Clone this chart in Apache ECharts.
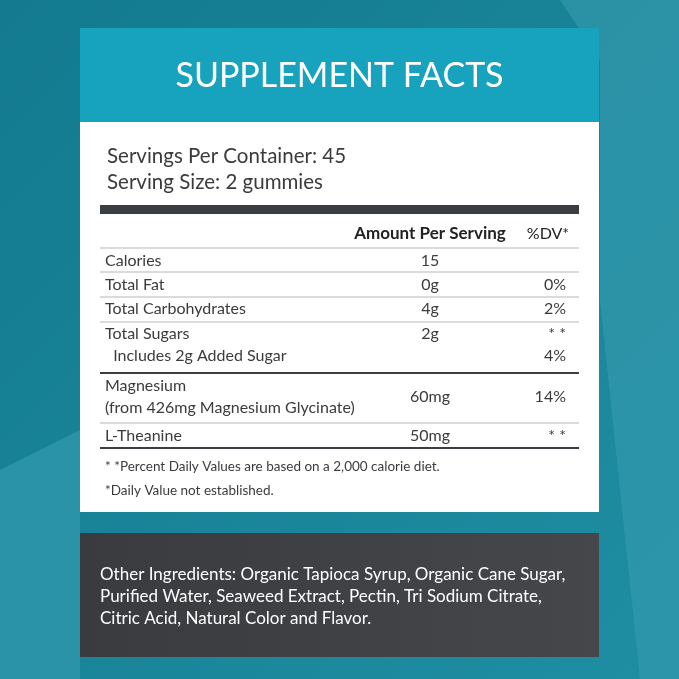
<!DOCTYPE html>
<html>
<head>
<meta charset="utf-8">
<script src="https://cdn.jsdelivr.net/npm/echarts@6/dist/echarts.min.js"></script>
<style>html,body{margin:0;padding:0;}#main{width:679px;height:679px;}</style>
</head>
<body>
<div id="main"></div>
<script>
var title = 'SUPPLEMENT FACTS';
var servingLines = ['Servings Per Container: 45', 'Serving Size: 2 gummies'];
var rowNames = ['Calories', 'Total Fat', 'Total Carbohydrates', 'Total Sugars', '  Includes 2g Added Sugar', 'Magnesium\n(from 426mg Magnesium Glycinate)', 'L-Theanine'];
var rowAmounts = ['15', '0g', '4g', '2g', '', '60mg', '50mg'];
var rowDV = ['', '0%', '2%', '* *', '4%', '14%', '* *'];
var footnotes = ['* *Percent Daily Values are based on a 2,000 calorie diet.', '*Daily Value not established.'];
var ingredients = ['Other Ingredients: Organic Tapioca Syrup, Organic Cane Sugar,', 'Purified Water, Seaweed Extract, Pectin, Tri Sodium Citrate,', 'Citric Acid, Natural Color and Flavor.'];

var myChart = echarts.init(document.getElementById('main'));
var F = 'Lato, "Open Sans", sans-serif';
var ink = '#3b3b3e';

// row layout: text y and separator after
var rowY = [261, 285, 309, 334, 356, 397, 436];
var lines = [
  {y: 248, c: '#cfcfcf', w: 1.5}, {y: 272, c: '#cfcfcf', w: 1.5}, {y: 297, c: '#cfcfcf', w: 1.5},
  {y: 322, c: '#cfcfcf', w: 1.5}, {y: 373, c: '#3a3d42', w: 2}, {y: 423, c: '#cfcfcf', w: 1.5},
  {y: 448, c: '#3a3d42', w: 2}
];

var g = [];
// background
g.push({type: 'rect', shape: {x: 0, y: 0, width: 679, height: 679}, style: {fill: {type: 'linear', x: 0, y: 0, x2: 1, y2: 1, colorStops: [{offset: 0, color: '#137a8f'}, {offset: 1, color: '#1f8ea2'}]}}});
g.push({type: 'polygon', shape: {points: [[560, 0], [679, 0], [679, 679], [640, 679], [600, 300], [600, 60]]}, style: {fill: '#3399ad', opacity: 0.7}});
g.push({type: 'polygon', shape: {points: [[0, 470], [80, 430], [80, 679], [0, 679]]}, style: {fill: '#2a93a7'}});
// card
g.push({type: 'rect', shape: {x: 80, y: 28, width: 519, height: 484}, style: {fill: '#ffffff'}});
g.push({type: 'rect', shape: {x: 80, y: 28, width: 519, height: 94}, style: {fill: '#17a2bd'}});
g.push({type: 'text', x: 339.5, y: 76, style: {text: title, fill: '#ffffff', font: '34px ' + F, align: 'center', verticalAlign: 'middle'}});
servingLines.forEach(function (t, i) {
  g.push({type: 'text', x: 107, y: 156 + i * 26, style: {text: t, fill: ink, font: '20.5px ' + F, verticalAlign: 'middle'}});
});
g.push({type: 'rect', shape: {x: 100, y: 205, width: 479, height: 9}, style: {fill: '#3a3d42'}});
g.push({type: 'text', x: 430, y: 234, style: {text: 'Amount Per Serving', fill: '#222', font: 'bold 17px ' + F, align: 'center', verticalAlign: 'middle'}});
g.push({type: 'text', x: 548, y: 234, style: {text: '%DV*', fill: '#222', font: '16px ' + F, align: 'center', verticalAlign: 'middle'}});
lines.forEach(function (l) {
  g.push({type: 'line', shape: {x1: 100, y1: l.y, x2: 579, y2: l.y}, style: {stroke: l.c, lineWidth: l.w}});
});
rowNames.forEach(function (n, i) {
  g.push({type: 'text', x: 105, y: rowY[i], style: {text: n, fill: ink, font: '16px ' + F, verticalAlign: 'middle', lineHeight: 22}});
  g.push({type: 'text', x: 430, y: rowY[i], style: {text: rowAmounts[i], fill: ink, font: '16px ' + F, align: 'center', verticalAlign: 'middle'}});
  g.push({type: 'text', x: 566, y: rowY[i], style: {text: rowDV[i], fill: ink, font: '16px ' + F, align: 'right', verticalAlign: 'middle'}});
});
footnotes.forEach(function (t, i) {
  g.push({type: 'text', x: 105, y: 467 + i * 24, style: {text: t, fill: ink, font: '13.5px ' + F, verticalAlign: 'middle'}});
});
// ingredients box
g.push({type: 'rect', shape: {x: 80, y: 533, width: 519, height: 124}, style: {fill: {type: 'linear', x: 0, y: 0, x2: 1, y2: 0, colorStops: [{offset: 0, color: '#3a3b3f'}, {offset: 1, color: '#46474b'}]}}});
ingredients.forEach(function (t, i) {
  g.push({type: 'text', x: 100, y: 575 + i * 22, style: {text: t, fill: '#ffffff', font: '17px ' + F, verticalAlign: 'middle'}});
});

myChart.setOption({animation: false, graphic: {elements: g}});
</script>
</body>
</html>
